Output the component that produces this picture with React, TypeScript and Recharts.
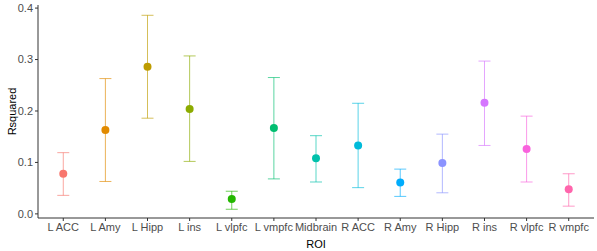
import { ErrorBar, Label, Scatter, ScatterChart, XAxis, YAxis } from "recharts";

const regions = [
  "L ACC", "L Amy", "L Hipp", "L ins", "L vlpfc", "L vmpfc", "Midbrain",
  "R ACC", "R Amy", "R Hipp", "R ins", "R vlpfc", "R vmpfc",
];
const rsquared = [0.078, 0.163, 0.286, 0.204, 0.029, 0.167, 0.108, 0.133, 0.061, 0.099, 0.216, 0.126, 0.048];
const lower = [0.036, 0.063, 0.186, 0.102, 0.009, 0.068, 0.062, 0.051, 0.034, 0.041, 0.133, 0.062, 0.015];
const upper = [0.119, 0.263, 0.386, 0.307, 0.044, 0.265, 0.152, 0.215, 0.087, 0.155, 0.297, 0.19, 0.078];
const colors = [
  "#F8766D", "#E18A00", "#BE9C00", "#8CAB00", "#24B700", "#00BE70", "#00C1AB",
  "#00BBDA", "#00ACFC", "#8B93FF", "#D575FE", "#F962DD", "#FF65AC",
];
const yTicks = [0, 0.1, 0.2, 0.3, 0.4];
const xTicks = regions.map((_, i) => i + 1);

const series = regions.map((name, i) => ({
  name,
  color: colors[i],
  data: [{ pos: i + 1, r2: rsquared[i], err: [rsquared[i] - lower[i], upper[i] - rsquared[i]] }],
}));

const font = "Liberation Sans, Arial, sans-serif";

export default function App() {
  return (
    <div style={{ width: 597, height: 251, background: "#fff" }}>
      <style>{`body{margin:0}`}</style>
      <ScatterChart width={597} height={251} margin={{ top: 5, right: 3, left: 0, bottom: 0 }}>
        <XAxis
          type="number"
          dataKey="pos"
          domain={[0.4, 13.6]}
          ticks={xTicks}
          interval={0}
          tickFormatter={(v) => regions[v - 1] ?? ""}
          tickSize={3}
          tickMargin={2}
          height={33}
          stroke="#333"
          tick={{ fill: "#4d4d4d", fontSize: 11, fontFamily: font }}
          allowDataOverflow
        >
          <Label value="ROI" position="insideBottom" offset={3} style={{ fill: "#000", fontSize: 11, fontFamily: font }} />
        </XAxis>
        <YAxis
          type="number"
          dataKey="r2"
          domain={[-0.008, 0.406]}
          ticks={yTicks}
          tickFormatter={(v) => Number(v).toFixed(1)}
          tickSize={3}
          tickMargin={2}
          width={38}
          stroke="#333"
          tick={{ fill: "#4d4d4d", fontSize: 11, fontFamily: font }}
          allowDataOverflow
        >
          <Label
            content={({ viewBox }: any) => (
              <text
                x={12}
                y={viewBox.y + viewBox.height / 2}
                transform={`rotate(-90, 12, ${viewBox.y + viewBox.height / 2})`}
                textAnchor="middle"
                dominantBaseline="central"
                fill="#000"
                fontSize={11}
                fontFamily={font}
              >
                Rsquared
              </text>
            )}
          />
        </YAxis>
        {series.map((s) => (
          <Scatter
            key={s.name}
            name={s.name}
            data={s.data}
            isAnimationActive={false}
            shape={(p: any) => <circle cx={p.cx} cy={p.cy} r={4} fill={s.color} />}
          >
            <ErrorBar
              dataKey="err"
              direction="y"
              width={6}
              stroke={s.color}
              strokeOpacity={0.65}
              strokeWidth={1}
              isAnimationActive={false}
            />
          </Scatter>
        ))}
      </ScatterChart>
    </div>
  );
}
